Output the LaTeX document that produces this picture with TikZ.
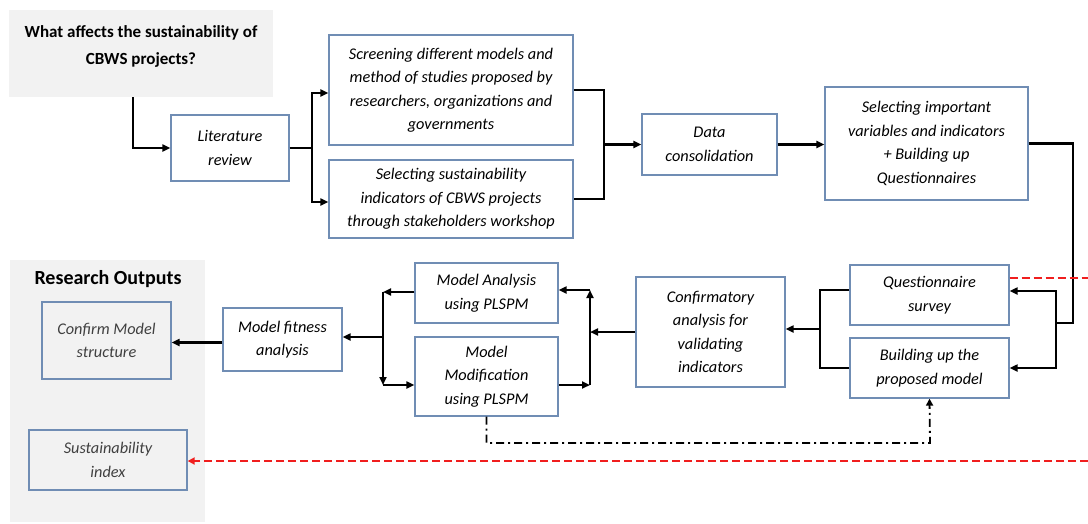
\documentclass[tikz,border=0pt]{standalone}
\usepackage{fontspec}
\setmainfont{Carlito}
\usetikzlibrary{arrows.meta}
\definecolor{boxline}{RGB}{112,141,180}
\definecolor{panel}{RGB}{242,242,242}
\definecolor{outtext}{RGB}{64,64,64}
\definecolor{dashred}{RGB}{240,30,30}

\begin{document}
\begin{tikzpicture}[x=1pt,y=-1pt,
    box/.style={draw=boxline,line width=1.3pt,fill=white,align=center,inner sep=2pt,
      font=\itshape\fontsize{16.3}{23.5}\selectfont},
    outbox/.style={box,fill=panel,text=outtext},
    heading/.style={align=center,font=\bfseries\fontsize{17}{27}\selectfont},
    link/.style={line width=2.2pt},
    arrow/.style={link,-{Triangle[length=8pt,width=7pt]}},
    feedback/.style={dashred,line width=2pt,dash pattern=on 8pt off 4pt,-{Triangle[length=7pt,width=7pt]}},
    checkback/.style={line width=1.8pt,dash pattern=on 8pt off 4pt on 2pt off 4pt,-{Triangle[length=7pt,width=7pt]}}]
        \useasboundingbox (0,0) rectangle (1088,523);

        % grey panels
        \node[fill=panel,minimum width=264,minimum height=87] (question) at (141,53.5) {};
        \node[heading] (questiontext) at (141,46.5) {What affects the sustainability of\\CBWS projects?};
        \node[fill=panel,minimum width=195,minimum height=262] (outputs) at (107.5,391) {};
        \node[heading,font=\bfseries\fontsize{20}{24}\selectfont] (outputstitle) at (108,279) {Research Outputs};

        % upper row
        \node[box,minimum width=118,minimum height=66] (litreview) at (230,148) {Literature\\review};
        \node[box,minimum width=244,minimum height=110] (screening) at (451,90) {Screening different models and\\method of studies proposed by\\researchers, organizations and\\governments};
        \node[box,minimum width=244,minimum height=78] (selectind) at (451,199) {Selecting sustainability\\indicators of CBWS projects\\through stakeholders workshop};
        \node[box,minimum width=135,minimum height=61] (data) at (709.5,144.5) {Data\\consolidation};
        \node[box,minimum width=203,minimum height=113] (selectvar) at (926.5,143.5) {Selecting important\\variables and indicators\\+ Building up\\Questionnaires};

        % lower row
        \node[box,minimum width=159,minimum height=60] (survey) at (929.5,295) {Questionnaire\\survey};
        \node[box,minimum width=159,minimum height=60] (buildmodel) at (929.5,368) {Building up the\\proposed model};
        \node[box,minimum width=149,minimum height=110] (confirmatory) at (710.5,332) {Confirmatory\\analysis for\\validating\\indicators};
        \node[box,minimum width=143,minimum height=60] (analysis) at (486.5,293) {Model Analysis\\using PLSPM};
        \node[box,minimum width=143,minimum height=79] (modification) at (486.5,376.5) {Model\\Modification\\using PLSPM};
        \node[box,minimum width=119,minimum height=63] (fitness) at (282.5,339.5) {Model fitness\\analysis};
        \node[outbox,minimum width=129,minimum height=77] (confirmmodel) at (106.5,340.5) {Confirm Model\\structure};
        \node[outbox,minimum width=158,minimum height=60] (sustindex) at (108,460) {Sustainability\\index};

        \coordinate (fork1) at (312,148);
        \coordinate (join1) at (604,144.5);
        \coordinate (turn1) at (1073,323);
        \coordinate (fork2) at (1056,323);
        \coordinate (join2) at (820,329);
        \coordinate (join3) at (590,332);
        \coordinate (looptop) at (590,290);
        \coordinate (loopbot) at (590,385);
        \coordinate (fork3top) at (383,292);
        \coordinate (fork3) at (383,337);
        \coordinate (fork3bot) at (383,385);
        \coordinate (edge1) at (1088,278);
        \coordinate (edge2) at (1088,461);
        \coordinate (ddcorner) at (930,443);

        \draw[arrow] ([xshift=-8]question.south) |- (litreview);
        \draw[link] (litreview) -- (fork1);
        \draw[arrow] (fork1) |- ([yshift=-3]screening.west);
        \draw[arrow] (fork1) |- ([yshift=-3]selectind.west);
        \draw[link] (screening.east) -| (join1) |- (selectind.east);
        \draw[arrow] (join1) -- (data);
        \draw[arrow] (data.east) -- (data.east -| selectvar.west);

        \draw[link] (selectvar.east) -| (turn1) -- (fork2);
        \draw[arrow] (fork2) |- ([yshift=4]survey.east);
        \draw[arrow] (fork2) |- (buildmodel.east);
        \draw[link] ([yshift=5]survey.west) -| (join2) |- (buildmodel.west);
        \draw[arrow] (join2) -- (join2 -| confirmatory.east);

        \draw[arrow] (confirmatory) -- (join3);
        \draw[arrow] ([yshift=-8.5]modification.east) -- (loopbot);
        \draw[arrow] (loopbot) -- (looptop);
        \draw[arrow] (looptop) -- (looptop -| analysis.east);

        \draw[arrow] ([yshift=1]analysis.west) -- (fork3top);
        \draw[arrow] (fork3top) -- (fork3bot);
        \draw[arrow] (fork3bot) -- (fork3bot -| modification.west);
        \draw[arrow] (fork3) -- (fork3 -| fitness.east);
        \draw[arrow] ([yshift=-3]fitness.west) -- ([yshift=-3]fitness.west -| confirmmodel.east);

        \draw[feedback,-] ([yshift=17]survey.east) -- (edge1);
        \draw[feedback] (edge2) -- (edge2 -| sustindex.east);
        \draw[checkback] (modification.south) |- (ddcorner) -- (buildmodel.south);
    \end{tikzpicture}
\end{document}
